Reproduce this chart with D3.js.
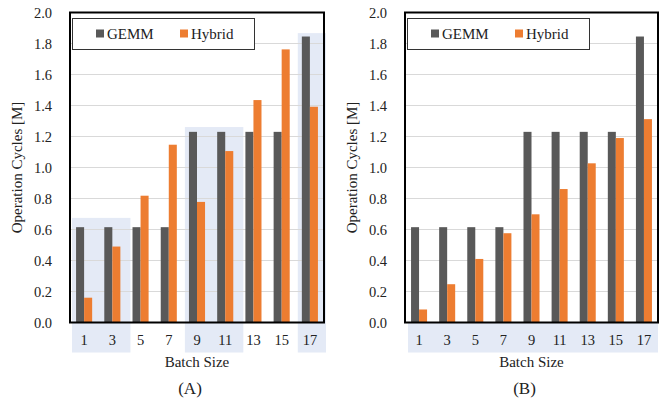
<!DOCTYPE html>
<html>
<head>
<meta charset="utf-8">
<script src="https://cdn.jsdelivr.net/npm/d3@7"></script>
<style>
  body { margin: 0; background: #fff; }
  svg text { font-family: "Liberation Serif", "Times New Roman", serif; fill: #222; }
</style>
</head>
<body>
<svg id="chart" width="665" height="404"></svg>
<script>
// data
const batchSizes = ['1', '3', '5', '7', '9', '11', '13', '15', '17'];
const seriesNames = ['GEMM', 'Hybrid'];
const gemmA = [0.615, 0.615, 0.615, 0.615, 1.23, 1.23, 1.23, 1.23, 1.845];
const hybridA = [0.16, 0.49, 0.818, 1.147, 0.778, 1.106, 1.435, 1.762, 1.392];
const gemmB = [0.615, 0.615, 0.615, 0.615, 1.23, 1.23, 1.23, 1.23, 1.845];
const hybridB = [0.084, 0.247, 0.41, 0.576, 0.698, 0.861, 1.027, 1.19, 1.312];
const yTicks = [0, 0.2, 0.4, 0.6, 0.8, 1.0, 1.2, 1.4, 1.6, 1.8, 2.0];
// shaded groups in (A): first category, last category, top value
const groupsA = [['1', '3', 0.675], ['9', '11', 1.261], ['17', '17', 1.867]];

const colors = { GEMM: '#595959', Hybrid: '#ed7d31' };
const shade = '#e4eaf6';
const svg = d3.select('#chart');

function drawPanel(left, right, gemm, hybrid, groups, title, shadeAllLabels) {
  const top = 12.5, bottom = 322.5;
  const g = svg.append('g');

  const x = d3.scaleBand().domain(batchSizes).range([left, right])
    .paddingInner(0.43).paddingOuter(0.215);
  const xs = d3.scaleBand().domain(seriesNames).range([0, x.bandwidth()]);
  const y = d3.scaleLinear().domain([0, 2]).range([bottom, top]);
  const step = x.step();
  const pad = (step - x.bandwidth()) / 2;

  // shading
  if (groups) {
    groups.forEach(([a, b, v]) => {
      const x0 = x(a) - pad + 2, x1 = Math.min(x(b) + x.bandwidth() + pad + 4, right + 2);
      g.append('rect').attr('x', x0).attr('y', y(v))
        .attr('width', x1 - x0).attr('height', bottom + 30 - y(v))
        .attr('fill', shade);
    });
  }
  if (shadeAllLabels) {
    g.append('rect').attr('x', left + 3).attr('y', bottom)
      .attr('width', right - left - 3).attr('height', 30).attr('fill', shade);
  }

  // gridlines
  g.append('g').selectAll('line').data(yTicks.slice(1)).join('line')
    .attr('x1', left).attr('x2', right)
    .attr('y1', d => y(d)).attr('y2', d => y(d))
    .attr('stroke', '#d9d9d9').attr('stroke-width', 1);

  // bars
  const rows = batchSizes.map((c, i) => ({ c, GEMM: gemm[i], Hybrid: hybrid[i] }));
  g.append('g').selectAll('g').data(rows).join('g')
    .attr('transform', d => `translate(${x(d.c)},0)`)
    .selectAll('rect').data(d => seriesNames.map(s => ({ s, v: d[s] }))).join('rect')
    .attr('x', d => xs(d.s)).attr('width', xs.bandwidth())
    .attr('y', d => y(d.v)).attr('height', d => y(0) - y(d.v))
    .attr('fill', d => colors[d.s]);

  // frame
  g.append('rect').attr('x', left).attr('y', top)
    .attr('width', right - left).attr('height', bottom - top)
    .attr('fill', 'none').attr('stroke', '#000').attr('stroke-width', 2);

  // y axis labels
  const yAxis = d3.axisLeft(y).tickValues(yTicks).tickFormat(d3.format('.1f')).tickSize(0).tickPadding(18);
  const ya = g.append('g').attr('transform', `translate(${left},0)`).call(yAxis);
  ya.select('.domain').remove();
  ya.selectAll('text').style('font-size', '14.5px')
    .style('font-family', '"Liberation Serif", serif').attr('fill', '#222');

  // x axis labels
  const xAxis = d3.axisBottom(x).tickSize(0).tickPadding(12);
  const xa = g.append('g').attr('transform', `translate(0,${bottom})`).call(xAxis);
  xa.select('.domain').remove();
  xa.selectAll('text').style('font-size', '14.5px')
    .style('font-family', '"Liberation Serif", serif').attr('fill', '#222');

  // axis titles
  g.append('text').attr('x', (left + right) / 2).attr('y', 367)
    .attr('text-anchor', 'middle').style('font-size', '15px').text('Batch Size');
  g.append('text').attr('transform', `translate(${left - 48},${(top + bottom) / 2}) rotate(-90)`)
    .attr('text-anchor', 'middle').style('font-size', '15px').text('Operation Cycles [M]');
  g.append('text').attr('x', (left + right) / 2 - 7).attr('y', 394)
    .attr('text-anchor', 'middle').style('font-size', '17px').text(title);

  // legend
  const lg = g.append('g').attr('transform', `translate(${left + 2.5},18.5)`);
  lg.append('rect').attr('width', 182).attr('height', 31)
    .attr('fill', '#fff').attr('stroke', '#333').attr('stroke-width', 1);
  seriesNames.forEach((s, i) => {
    const ox = 23.5 + i * 84;
    lg.append('rect').attr('x', ox).attr('y', 11).attr('width', 8).attr('height', 8).attr('fill', colors[s]);
    lg.append('text').attr('x', ox + 11).attr('y', 20).style('font-size', '15px').text(s);
  });
}

drawPanel(70, 324, gemmA, hybridA, groupsA, '(A)', false);
drawPanel(405, 658, gemmB, hybridB, null, '(B)', true);
</script>
</body>
</html>
